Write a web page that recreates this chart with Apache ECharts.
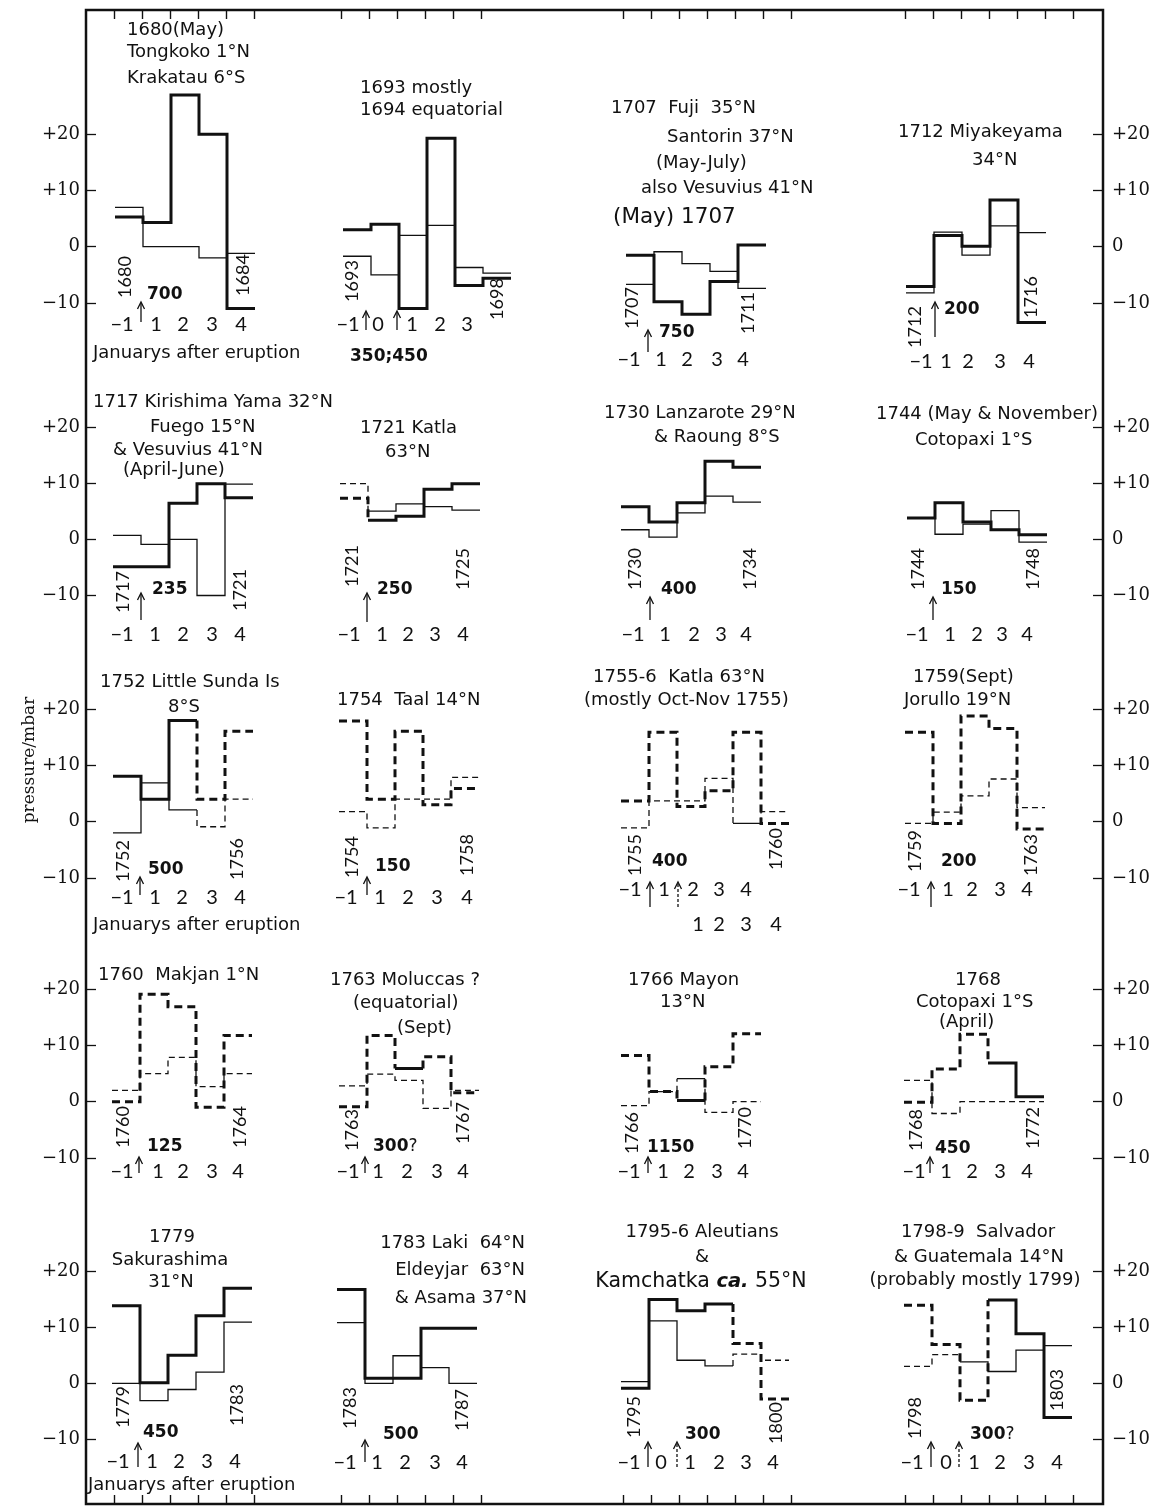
<!DOCTYPE html>
<html><head><meta charset="utf-8">
<script src="https://cdn.jsdelivr.net/npm/echarts@6/dist/echarts.min.js"></script>
<style>html,body{margin:0;padding:0;background:#fff}#c{width:1157px;height:1507px}</style>
</head><body><div id="c"></div>
<script>
// ---------------- DATA (pressure anomaly, mbar, per January slot) ----------------
const eruptions = ['1680','1693','1707','1712','1717','1721','1730','1744','1752','1754','1755-6','1759','1760','1763','1766','1768','1779','1783','1795-6','1798-9'];
const thick1680=[5.3,4.3,27,20,-11],           thin1680=[7,0,0,-2,-1.2];
const thick1693=[3,4,-11,19.3,-6.9,-5.6],      thin1693=[-1.7,-5,2,3.8,-3.7,-4.7];
const thick1707=[-1.5,-9.8,-12,-6.2,0.3],      thin1707=[-6.7,-0.9,-3.0,-4.4,-7.4];
const thick1712=[-7.1,2.0,0.1,8.3,-13.5],      thin1712=[-8.2,2.6,-1.5,3.7,2.5];
const thick1717=[-4.9,-4.9,6.4,9.9,7.4],       thin1717=[0.7,-0.9,0,-10,9.8];
const thick1721=[7.3,3.4,4.1,8.9,9.9],         thin1721=[9.9,5.0,6.3,5.8,5.2];
const thick1730=[5.8,3.1,6.5,13.9,12.8],       thin1730=[1.7,0.4,4.7,7.7,6.6];
const thick1744=[3.8,6.5,3.1,1.7,0.8],         thin1744=[3.8,0.9,2.7,5.1,-0.5];
const thick1752=[8.1,4.0,18.0,4.0,16.1],       thin1752=[-2.0,6.9,2.1,-0.9,4.0];
const thick1754=[17.9,4.0,16.1,3.0,5.9],       thin1754=[1.8,-1.1,4.0,4.0,7.9];
const thick1755=[3.7,15.9,2.7,5.5,15.9,-0.3],  thin1755=[-1.1,3.7,3.7,7.7,-0.3,1.8];
const thick1759=[15.9,-0.3,18.8,16.6,-1.3],    thin1759=[-0.3,1.7,4.6,7.6,2.5];
const thick1760=[0,19.1,16.9,-1.0,11.8],       thin1760=[2.0,5.0,7.9,2.7,5.0];
const thick1763=[-0.9,11.8,5.9,8.0,1.6],       thin1763=[2.8,4.9,3.8,-1.2,2.0];
const thick1766=[8.2,1.8,0.2,6.2,12.1],        thin1766=[-0.7,1.8,4.1,-1.9,0];
const thick1768=[-0.1,5.8,12.0,6.9,0.9],       thin1768=[3.8,-2.1,0,0,0];
const thick1779=[13.8,0.1,5.0,12.0,16.9],      thin1779=[0,-3.1,-1.1,2.0,10.9];
const thick1783=[16.7,0.9,0.9,9.8,9.8],        thin1783=[10.8,0,4.9,2.8,0];
const thick1795=[-0.9,14.9,12.9,14.1,7.1,-2.8],thin1795=[0.3,11.1,4.1,3.1,5.2,4.1];
const thick1798=[13.9,6.9,-3.0,14.8,8.8,-6.1], thin1798=[3.0,5.1,3.8,2.1,5.9,6.7];
const thickSeries=[thick1680,thick1693,thick1707,thick1712,thick1717,thick1721,thick1730,thick1744,thick1752,thick1754,thick1755,thick1759,thick1760,thick1763,thick1766,thick1768,thick1779,thick1783,thick1795,thick1798];
const thinSeries=[thin1680,thin1693,thin1707,thin1712,thin1717,thin1721,thin1730,thin1744,thin1752,thin1754,thin1755,thin1759,thin1760,thin1763,thin1766,thin1768,thin1779,thin1783,thin1795,thin1798];
// uncertain (dashed) slots: 's' = solid, 'd' = dashed
const thickCertainty=['sssss','ssssss','sssss','sssss','sssss','dssss','sssss','sssss','sssdd','ddddd','dddddd','ddddd','ddddd','ddsdd','ddsdd','dddss','sssss','sssss','ssssdd','dddsss'];
const thinCertainty =['sssss','ssssss','sssss','sssss','sssss','dssss','sssss','sssss','sssdd','ddddd','ddddsd','ddddd','ddddd','ddddd','ddsdd','ddddd','sssss','sssss','ssssdd','ddssss'];
// texts
const titles=[
 ['1680(May)','Tongkoko 1°N','Krakatau 6°S'],
 ['1693 mostly','1694 equatorial'],
 ['1707  Fuji  35°N','Santorin 37°N','(May-July)','also Vesuvius 41°N','(May) 1707'],
 ['1712 Miyakeyama','34°N'],
 ['1717 Kirishima Yama 32°N','Fuego 15°N','& Vesuvius 41°N','(April-June)'],
 ['1721 Katla','63°N'],
 ['1730 Lanzarote 29°N','& Raoung 8°S'],
 ['1744 (May & November)','Cotopaxi 1°S'],
 ['1752 Little Sunda Is','8°S'],
 ['1754  Taal 14°N'],
 ['1755-6  Katla 63°N','(mostly Oct-Nov 1755)'],
 ['1759(Sept)','Jorullo 19°N'],
 ['1760  Makjan 1°N'],
 ['1763 Moluccas ?','(equatorial)','(Sept)'],
 ['1766 Mayon','13°N'],
 ['1768','Cotopaxi 1°S','(April)'],
 ['1779','Sakurashima','31°N'],
 ['1783 Laki  64°N','Eldeyjar  63°N','& Asama 37°N'],
 ['1795-6 Aleutians','&','Kamchatka |ca.| 55°N'],
 ['1798-9  Salvador','& Guatemala 14°N','(probably mostly 1799)']
];
const yearLabels=[['1680','1684'],['1693','1698'],['1707','1711'],['1712','1716'],['1717','1721'],['1721','1725'],['1730','1734'],['1744','1748'],['1752','1756'],['1754','1758'],['1755','1760'],['1759','1763'],['1760','1764'],['1763','1767'],['1766','1770'],['1768','1772'],['1779','1783'],['1783','1787'],['1795','1800'],['1798','1803']];
const magnitudes=['700','350;450','750','200','235','250','400','150','500','150','400','200','125','300?','1150','450','450','500','300','300?'];
const ticks5=['−1','1','2','3','4'];
const ticks1693=['−1','0','1','2','3'];
const ticks6=['−1','0','1','2','3','4'];
const ticks1755second=['1','2','3','4'];
const panelTicks=[ticks5,ticks1693,ticks5,ticks5,ticks5,ticks5,ticks5,ticks5,ticks5,ticks5,ticks5,ticks5,ticks5,ticks5,ticks5,ticks5,ticks5,ticks5,ticks6,ticks6];
const pressureTicks=[-10,0,10,20];
const xTitle='Januarys after eruption';
const yTitle='pressure/mbar';

// ---------------- LAYOUT ----------------
const S=5.62, W=28;
const rowZero=[246.7,539.3,821.7,1101.7,1383.3];
const panelX=[115,343,626,906, 113,340,621,907, 113,339,621,905, 112,339,621,904, 112,337,621,904];
const titleLayout=[
 [[127,30],[127,52],[127,78]],
 [[360,88],[360,110]],
 [[611,108],[667,137],[656,163],[641,188],[613,217,'left',21.5]],
 [[898,132],[972,160]],
 [[93,402],[150,427],[113,450],[123,470]],
 [[360,428],[385,452]],
 [[604,413],[654,437]],
 [[876,414],[915,440]],
 [[100,682],[168,707]],
 [[337,700]],
 [[593,677],[584,700]],
 [[913,677],[904,700]],
 [[98,975]],
 [[330,980],[353,1003],[397,1028]],
 [[628,980],[660,1002]],
 [[978,980,'center'],[916,1002],[939,1022]],
 [[172,1237,'center'],[170,1260,'center'],[171,1282,'center']],
 [[525,1243,'right'],[525,1270,'right'],[527,1298,'right']],
 [[702,1232,'center'],[702,1257,'center'],[701,1282,'center',20.5]],
 [[978,1232,'center'],[979,1257,'center'],[975,1280,'center']]
];
const yearPos=[[[125,277],[243,275]],[[352,281],[497,299]],[[632,308],[748,313]],[[915,327],[1031,297]],
 [[123,592],[240,590]],[[352,566],[463,569]],[[635,569],[750,569]],[[918,569],[1033,569]],
 [[123,861],[237,859]],[[352,857],[467,855]],[[635,855],[776,849]],[[915,851],[1031,855]],
 [[123,1127],[240,1127]],[[352,1130],[463,1123]],[[632,1133],[745,1128]],[[916,1130],[1033,1128]],
 [[123,1407],[237,1405]],[[350,1408],[462,1410]],[[634,1417],[776,1423]],[[915,1418],[1057,1390]]];
const magPos=[[147,295],[350,357],[659,333],[944,310],[152,590],[377,590],[661,590],[941,590],[148,870],[375,867],[652,862],[941,862],[147,1147],[373,1147],[647,1148],[935,1149],[143,1433],[383,1435],[685,1435],[970,1435]];
const arrowPos=[[[141,322,302]],[[366,330,311],[397,330,311]],[[648,352,330]],[[935,337,302]],
 [[141,620,593]],[[367,622,593]],[[650,620,597]],[[933,620,597]],
 [[140,895,877]],[[367,895,877]],[[650,907,882],[678,907,882,1]],[[931,907,882]],
 [[139,1173,1157]],[[365,1173,1157]],[[648,1173,1157]],[[930,1173,1157]],
 [[138,1467,1443]],[[365,1462,1440]],[[648,1467,1442],[677,1467,1442,1]],[[931,1467,1442],[959,1467,1442,1]]];
const tickPos=[[[122,156,183,212,241],325],[[348,378,412,440,467],325],[[629,661,687,717,743],360],[[921,946,968,1000,1029],362],
 [[122,155,183,212,240],635],[[349,382,408,435,463],635],[[633,665,694,721,746],635],[[917,950,977,1002,1027],635],
 [[122,155,182,212,240],898],[[346,380,408,437,467],898],[[630,664,693,719,746],890],[[909,948,972,1000,1027],890],
 [[122,158,183,212,238],1172],[[348,378,407,437,463],1172],[[629,663,689,717,743],1172],[[914,946,972,1000,1027],1172],
 [[118,152,179,207,235],1462],[[345,377,405,435,462],1463],[[629,661,690,719,746,773],1463],[[912,946,974,1000,1029,1057],1463]];
const tick1755secondPos=[[698,719,746,776],925];
const xTitlePos=[[93,353],[93,925],[88,1485]];
const colTicks=[[114,5],[341,5],[623,6],[905,6]];
const FRAME={x:86,y:10,w:1017,h:1494};

const INK='#111';
const SANS='"DejaVu Sans", sans-serif';
const DIG='Lato, "DejaVu Sans", sans-serif';

// ---------------- BUILD ----------------
const grids=[], xAxes=[], yAxes=[], series=[], graphics=[];

function stepRuns(vals, cert, gi, width){
  const n=vals.length; let i=0;
  while(i<n){
    const st=cert[i]; let j=i;
    while(j+1<n && cert[j+1]===st) j++;
    const data=[];
    if(st==='d' && i>0) data.push([i, vals[i-1]]);
    for(let k=i;k<=j;k++) data.push([k, vals[k]]);
    if(j+1<n){
      if(st==='s') data.push([j+1, vals[j]]);
      else data.push([j+1, vals[j+1]]);
    } else data.push([n, vals[j]]);
    const dash = st==='d' ? (width>2 ? [8,5] : [6,4]) : 'solid';
    series.push({type:'line', step:'end', xAxisIndex:gi, yAxisIndex:gi, data, symbol:'none',
      silent:true, animation:false, clip:false,
      lineStyle:{color:INK, width, type:dash, cap:'butt', join:'miter'}});
    i=j+1;
  }
}

eruptions.forEach((name,p)=>{
  const row=Math.floor(p/4);
  const n=thickSeries[p].length;
  grids.push({left:panelX[p], top:rowZero[row]-30*S, width:n*W, height:50*S});
  xAxes.push({type:'value', gridIndex:p, min:0, max:n, show:false});
  yAxes.push({type:'value', gridIndex:p, min:-20, max:30, show:false});
  stepRuns(thinSeries[p], thinCertainty[p], p, 1.3);
  stepRuns(thickSeries[p], thickCertainty[p], p, 3);
});

// row pressure axes (left & right)
const fmt=v=> v>0? '+'+v : (v<0? '−'+(-v) : '0');
rowZero.forEach((z,r)=>{
  const gi=grids.length;
  grids.push({left:FRAME.x, width:FRAME.w, top:z-20*S, height:30*S});
  xAxes.push({type:'value', gridIndex:gi, min:0, max:1, show:false});
  const base={type:'value', gridIndex:gi, min:pressureTicks[0], max:pressureTicks[pressureTicks.length-1], interval:10,
    axisLine:{show:false}, splitLine:{show:false},
    axisTick:{show:true, inside:true, length:10, lineStyle:{color:INK, width:1.3}},
    axisLabel:{show:true, formatter:fmt, color:INK, fontFamily:'"DejaVu Serif", serif', fontSize:18}};
  yAxes.push(Object.assign({}, base, {position:'left', axisLabel:Object.assign({}, base.axisLabel, {margin:6})}));
  yAxes.push(Object.assign({}, base, {position:'right', axisLabel:Object.assign({}, base.axisLabel, {margin:9})}));
});

// column year ticks at top and bottom frame (separate small grids)
colTicks.forEach(([x0,n])=>{
  [['top',FRAME.y],['bottom',FRAME.y+FRAME.h-20]].forEach(([pos,top])=>{
    const gi=grids.length;
    grids.push({left:x0, width:n*W, top:top, height:20});
    yAxes.push({type:'value', gridIndex:gi, min:0, max:1, show:false});
    xAxes.push({type:'value', gridIndex:gi, position:pos, min:0, max:n, interval:1,
      axisLine:{show:false, onZero:false}, splitLine:{show:false}, axisLabel:{show:false},
      axisTick:{show:true, inside:true, length:9, lineStyle:{color:INK, width:1.4}}});
  });
});

// ---------------- TEXT / ANNOTATIONS ----------------
function txt(x,y,text,o={}){
  const st={text, fill:INK, font:o.font||('18px '+SANS),
    textAlign:o.align||'left', align:o.align||'left',
    textVerticalAlign:'middle', verticalAlign:'middle'};
  if(o.rich) st.rich=o.rich;
  return {type:'text', x, y, rotation:o.rot||0, silent:true, z:100, style:st};
}
graphics.push({type:'rect', shape:{x:FRAME.x,y:FRAME.y,width:FRAME.w,height:FRAME.h},
  style:{stroke:INK, lineWidth:2.5, fill:null}, silent:true, z:90});
graphics.push(txt(30,760,yTitle,{font:'17px "DejaVu Serif", serif', align:'center', rot:Math.PI/2}));
xTitlePos.forEach(([x,y])=>graphics.push(txt(x,y,xTitle,{font:'18px '+SANS})));

eruptions.forEach((name,p)=>{
  titles[p].forEach((line,k)=>{
    const L=titleLayout[p][k]; const size=L[3]||18;
    if(line.indexOf('|')>=0){
      const parts=line.split('|');
      graphics.push(txt(L[0],L[1],'{n|'+parts[0]+'}{i|'+parts[1]+'}{n|'+parts[2]+'}',{align:L[2]||'left',
        rich:{n:{font:size+'px '+SANS, fill:INK}, i:{font:'italic bold '+(size-1)+'px '+SANS, fill:INK}}}));
    } else graphics.push(txt(L[0],L[1],line,{align:L[2]||'left', font:size+'px '+SANS}));
  });
  yearLabels[p].forEach((yl,k)=>{
    const P=yearPos[p][k];
    graphics.push(txt(P[0],P[1],yl,{align:'center', rot:Math.PI/2, font:'18px '+DIG}));
  });
  const m=magnitudes[p];
  if(m.endsWith('?')) graphics.push(txt(magPos[p][0],magPos[p][1],'{b|'+m.slice(0,-1)+'}{r|?}',
      {rich:{b:{font:'bold 17px '+SANS, fill:INK}, r:{font:'17px '+SANS, fill:INK}}}));
  else graphics.push(txt(magPos[p][0],magPos[p][1],m,{font:'bold 17px '+SANS}));
  const tp=tickPos[p];
  panelTicks[p].forEach((t,k)=>graphics.push(txt(tp[0][k],tp[1],t,{align:'center', font:'20px '+DIG})));
  arrowPos[p].forEach(([x,yb,yt,d])=>{
    graphics.push({type:'line', shape:{x1:x,y1:yb,x2:x,y2:yt+1}, silent:true, z:100,
      style:{stroke:INK, lineWidth:1.3, lineDash:d?[3,2]:null}});
    graphics.push({type:'polyline', shape:{points:[[x-3.5,yt+7],[x,yt],[x+3.5,yt+7]]}, silent:true, z:100,
      style:{stroke:INK, lineWidth:1.3, fill:null}});
  });
});
ticks1755second.forEach((t,k)=>graphics.push(txt(tick1755secondPos[0][k],tick1755secondPos[1],t,{align:'center', font:'20px '+DIG})));

const chart=echarts.init(document.getElementById('c'), null, {renderer:'canvas'});
chart.setOption({animation:false, backgroundColor:'#fff',
  grid:grids, xAxis:xAxes, yAxis:yAxes, series, graphic:{elements:graphics}});
</script></body></html>
